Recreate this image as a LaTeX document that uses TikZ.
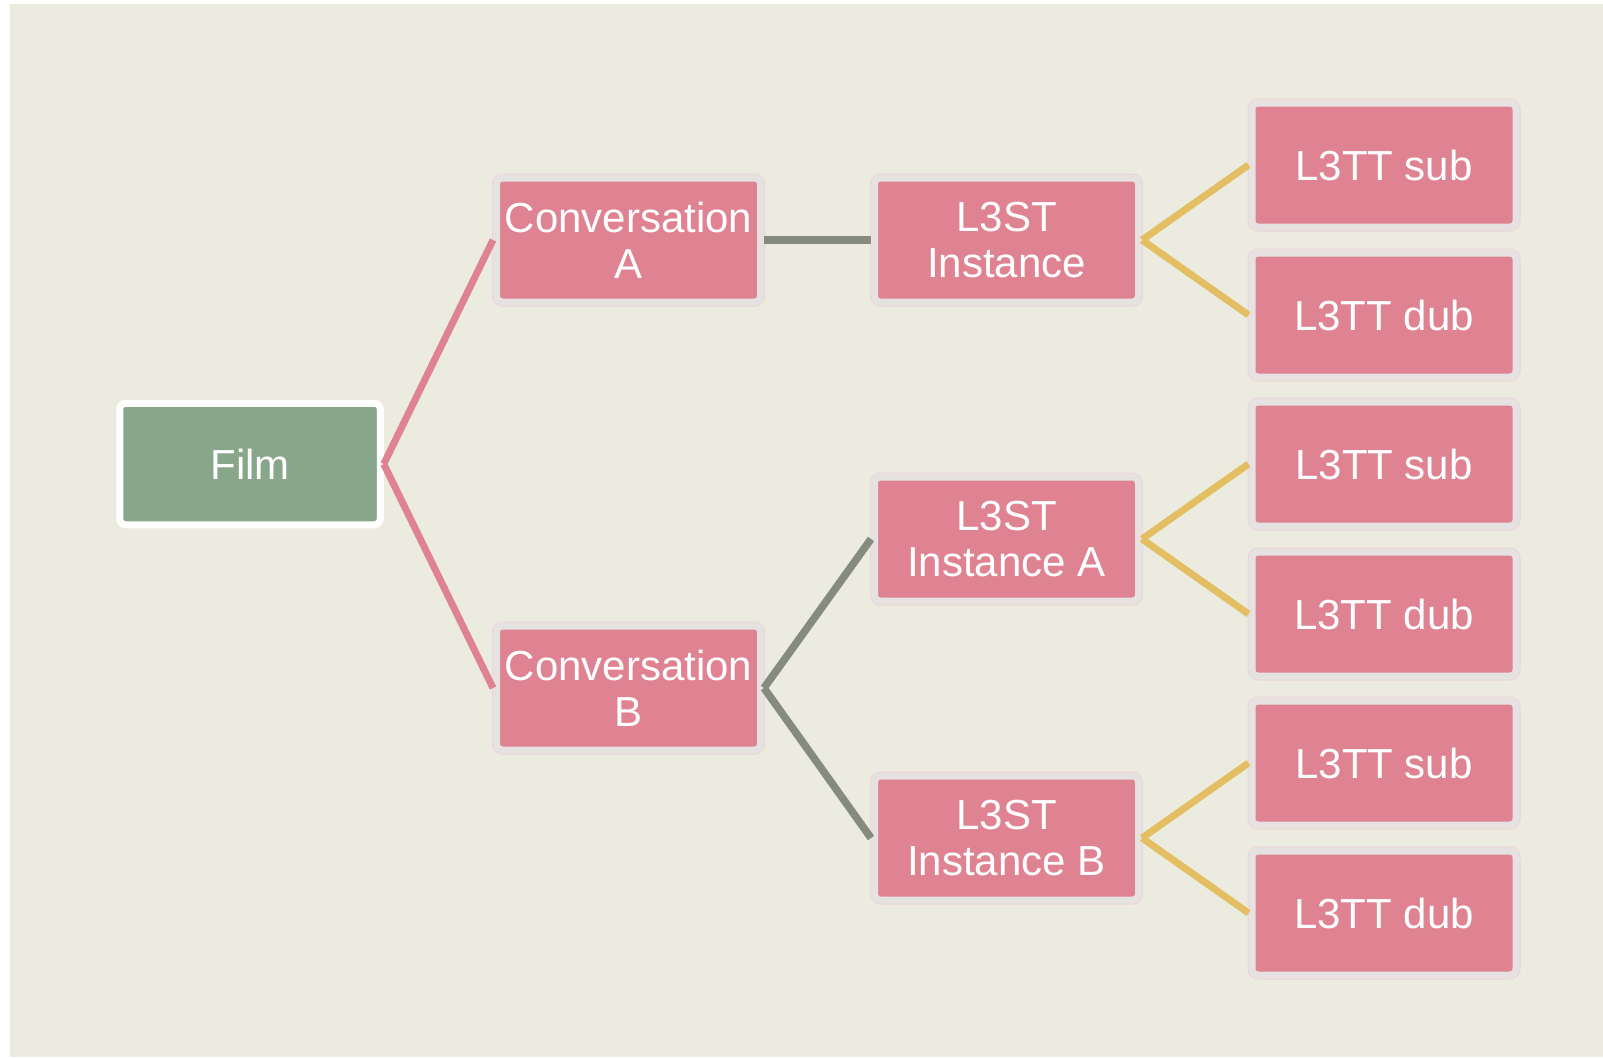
\documentclass[tikz,border=0pt]{standalone}
\usepackage{fontspec}
\setmainfont{Liberation Sans}
\definecolor{bgc}{HTML}{EBEBE0}
\definecolor{nodepink}{HTML}{DF8393}
\definecolor{nodeedge}{HTML}{E7E2E2}
\definecolor{edgeout}{HTML}{EBD5D8}
\definecolor{filmgreen}{HTML}{88A68A}
\definecolor{linegray}{HTML}{858C7D}
\definecolor{lineyellow}{HTML}{E4BE62}
\tikzset{
  boxbase/.style={rectangle, rounded corners=3pt, line width=3.5pt, inner sep=0pt,
    text=white, font=\fontsize{21}{23}\selectfont, align=center},
  pinkbox/.style={boxbase, fill=nodepink, draw=nodeedge,
    preaction={draw=edgeout, line width=4.5pt},
    minimum width=132pt, minimum height=62pt},
  filmbox/.style={boxbase, fill=filmgreen, draw=white,
    minimum width=130.25pt, minimum height=60.75pt},
  pinkline/.style={draw=nodepink, line width=3.5pt},
  grayline/.style={draw=linegray, line width=3.8pt},
  yellowline/.style={draw=lineyellow, line width=3.5pt},
}
\begin{document}
\begin{tikzpicture}[x=0.5pt,y=-0.5pt]
\useasboundingbox (0,0) rectangle (1603,1057);
\fill[bgc] (10,4) rectangle (1603,1057);

\node[filmbox] (film) at (250,464) {Film};
\node[pinkbox] (convA) at (628.5,240) {Conversation\\A};
\node[pinkbox] (convB) at (628.5,688) {Conversation\\B};
\node[pinkbox] (st) at (1006.5,240) {L3ST\\Instance};
\node[pinkbox] (stA) at (1006.5,539) {L3ST\\Instance A};
\node[pinkbox] (stB) at (1006.5,838) {L3ST\\Instance B};
\node[pinkbox] (sub1) at (1384,165) {L3TT sub};
\node[pinkbox] (dub1) at (1384,315) {L3TT dub};
\node[pinkbox] (sub2) at (1384,464) {L3TT sub};
\node[pinkbox] (dub2) at (1384,614) {L3TT dub};
\node[pinkbox] (sub3) at (1384,763) {L3TT sub};
\node[pinkbox] (dub3) at (1384,913) {L3TT dub};

\draw[pinkline] (film.east) -- (convA.west);
\draw[pinkline] (film.east) -- (convB.west);
\draw[grayline] (convA.east) -- (st.west);
\draw[grayline] (convB.east) -- (stA.west);
\draw[grayline] (convB.east) -- (stB.west);
\draw[yellowline] (st.east) -- (sub1.west);
\draw[yellowline] (st.east) -- (dub1.west);
\draw[yellowline] (stA.east) -- (sub2.west);
\draw[yellowline] (stA.east) -- (dub2.west);
\draw[yellowline] (stB.east) -- (sub3.west);
\draw[yellowline] (stB.east) -- (dub3.west);
\end{tikzpicture}
\end{document}
